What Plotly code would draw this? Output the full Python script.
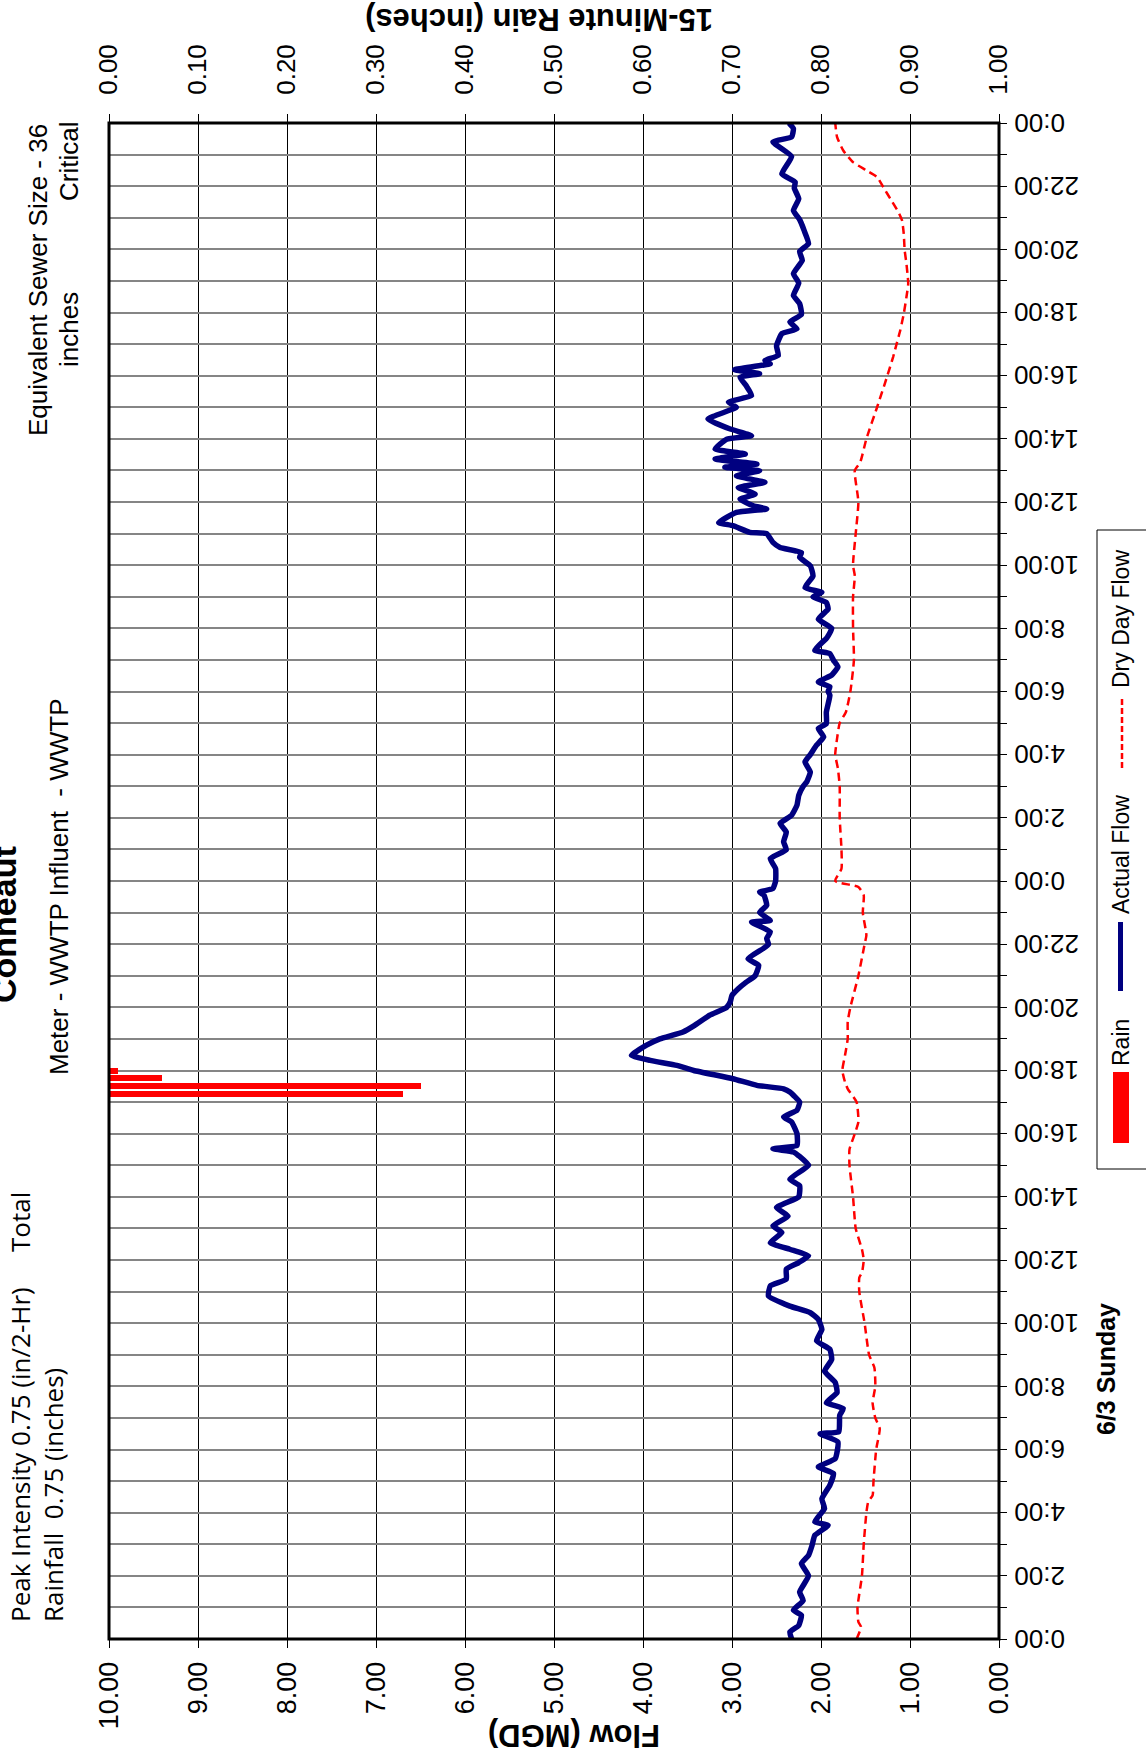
import plotly.graph_objects as go

# ---------------- data ----------------
flow_hours = [0.0, 0.22, 0.43, 0.75, 0.91, 1.22, 1.49, 2.0, 2.39, 2.65, 2.97, 3.28, 3.6, 3.71, 4.13, 4.44,
              4.87, 5.24, 5.45, 5.71, 6.24, 6.5, 6.56, 7.08, 7.3, 7.48, 7.8, 8.12, 8.48, 8.85, 9.17, 9.44,
              9.8, 10.12, 10.33, 10.54, 10.86, 11.18, 11.39, 11.71, 11.92, 12.13, 12.34, 12.55, 12.87,
              13.08, 13.39, 13.66, 14.0, 14.35, 14.56, 15.0, 15.3, 15.42, 15.52, 15.63, 16.0, 16.37, 16.53,
              16.74, 17.0, 17.32, 17.42, 17.53, 17.74, 18.0, 18.16, 18.32, 18.48, 18.8, 19.0, 19.22, 19.43,
              19.75, 20.0, 20.17, 20.38, 20.59, 20.8, 21.0, 21.33, 21.54, 21.86, 22.0, 22.18, 22.39, 22.7,
              22.75, 23.0, 23.23, 23.55, 23.65, 23.76, 24.0, 24.39, 24.71, 24.99, 25.24, 25.55, 25.82,
              26.08, 26.4, 26.71, 27.0, 27.14, 27.45, 27.77, 28.0, 28.3, 28.56, 28.83, 28.98, 29.35, 29.88,
              30.0, 30.15, 30.3, 30.52, 30.78, 30.99, 31.2, 31.31, 31.68, 31.76, 32.0, 32.29, 32.61, 32.82,
              33.0, 33.14, 33.29, 33.66, 33.98, 34.25, 34.4, 34.56, 34.72, 35.0, 35.04, 35.25, 35.35, 35.67,
              35.78, 35.88, 36.09, 36.25, 36.46, 36.62, 36.83, 36.99, 37.1, 37.2, 37.36, 37.52, 37.68,
              37.99, 38.1, 38.31, 38.63, 39.0, 39.16, 39.37, 39.68, 39.95, 40.06, 40.19, 40.38, 40.48,
              40.64, 40.94, 41.33, 41.48, 41.7, 41.94, 42.28, 42.54, 42.93, 43.23, 43.65, 43.93, 44.18,
              44.6, 44.94, 45.23, 45.6, 45.94, 46.13, 46.39, 46.94, 47.4, 47.56, 47.82, 48.0]
flow_mgd = [2.33, 2.35, 2.25, 2.22, 2.31, 2.20, 2.24, 2.14, 2.22, 2.14, 2.10, 2.07, 1.92, 2.07, 1.96, 1.99,
            1.90, 1.86, 2.03, 1.84, 1.81, 2.01, 1.80, 1.79, 1.75, 1.94, 1.82, 1.84, 1.96, 1.88, 1.90, 2.05,
            1.99, 2.03, 2.12, 2.35, 2.59, 2.57, 2.39, 2.39, 2.25, 2.14, 2.35, 2.57, 2.44,
            2.54, 2.37, 2.50, 2.25, 2.24, 2.35, 2.14, 2.25, 2.31, 2.54, 2.27, 2.27, 2.33, 2.42,
            2.27, 2.24, 2.35, 2.42, 2.72, 2.99, 3.43, 3.62, 3.92, 4.13, 3.96, 3.81, 3.55, 3.42,
            3.25, 3.06, 3.02, 3.00, 2.93, 2.84, 2.74, 2.70, 2.82, 2.65, 2.59, 2.61, 2.57, 2.78,
            2.57, 2.69, 2.61, 2.64, 2.69, 2.54, 2.51, 2.51, 2.57, 2.39, 2.42, 2.39, 2.46,
            2.33, 2.27, 2.25, 2.20, 2.16, 2.12, 2.18, 2.12, 2.05, 1.97, 2.03, 1.94, 1.94, 1.90,
            1.92, 1.90, 2.03, 1.88, 1.81, 1.86, 1.90, 2.07, 1.94, 1.92, 1.88, 2.03, 1.92, 1.94,
            2.09, 1.99, 2.18, 2.09, 2.12, 2.24, 2.22, 2.46, 2.54, 2.61, 2.80, 2.99, 3.15, 2.95,
            2.61, 2.76, 2.91, 2.74, 2.93, 2.63, 2.95, 2.69, 3.08, 2.72, 3.19, 2.85, 3.19,
            3.06, 2.78, 3.02, 3.27, 2.95, 3.04, 2.78, 2.84, 2.91, 2.69, 2.97, 2.57, 2.63,
            2.48, 2.50, 2.44, 2.27, 2.35, 2.22, 2.24, 2.31, 2.25, 2.31, 2.21, 2.24, 2.14,
            2.19, 2.24, 2.31, 2.25, 2.30, 2.29, 2.44, 2.33, 2.54, 2.33, 2.31, 2.36]

dry_hours = [0.0, 0.38, 0.54, 1.0, 2.0, 3.0, 4.0, 4.34, 4.55, 5.0, 6.0, 6.66, 7.0, 7.48, 8.0, 8.59, 9.0,
             10.0, 11.0, 11.44, 11.6, 12.0, 12.34, 13.0, 14.0, 15.0, 15.5, 16.0, 16.37, 17.0, 17.42,
             17.63, 18.0, 18.48, 19.0, 19.54, 20.0, 21.0, 22.0, 22.28, 23.0, 23.55, 23.81, 24.0, 24.39,
             25.0, 26.0, 27.0, 27.56, 28.0, 28.5, 29.0, 29.35, 30.0, 31.0, 32.0, 33.0, 33.66, 34.0, 35.0,
             36.0, 37.0, 37.25, 38.0, 39.0, 39.95, 40.59, 41.01, 41.43, 41.96, 42.49, 42.91, 43.55,
             43.97, 44.49, 44.92, 45.18, 45.55, 45.97, 46.29, 46.5, 46.76, 47.13, 47.56, 48.0]
dry_mgd = [1.60, 1.55, 1.58, 1.59, 1.54, 1.52, 1.49, 1.47, 1.42, 1.41, 1.38, 1.34, 1.39, 1.42, 1.39, 1.40, 1.46,
           1.51, 1.57, 1.57, 1.54, 1.52, 1.54, 1.61, 1.64, 1.68, 1.68, 1.62, 1.58, 1.60, 1.70,
           1.73, 1.76, 1.73, 1.70, 1.70, 1.67, 1.58, 1.51, 1.49, 1.53, 1.52, 1.58, 1.84, 1.77,
           1.77, 1.79, 1.79, 1.81, 1.84, 1.82, 1.79, 1.72, 1.67, 1.63, 1.64, 1.64, 1.62, 1.64, 1.61,
           1.58, 1.62, 1.56, 1.49, 1.37, 1.26, 1.19, 1.15, 1.11, 1.07, 1.04, 1.02, 1.04,
           1.06, 1.07, 1.09, 1.13, 1.21, 1.30, 1.37, 1.49, 1.64, 1.75, 1.82, 1.84]

rain_hours = [17.25, 17.5, 17.75, 18.0]
rain_in = [0.33, 0.35, 0.06, 0.01]

hour_ticks = list(range(0, 49))
hour_labels = ["0:00", "", "2:00", "", "4:00", "", "6:00", "", "8:00", "", "10:00", "", "12:00", "",
               "14:00", "", "16:00", "", "18:00", "", "20:00", "", "22:00", "",
               "0:00", "", "2:00", "", "4:00", "", "6:00", "", "8:00", "", "10:00", "", "12:00", "",
               "14:00", "", "16:00", "", "18:00", "", "20:00", "", "22:00", "", "0:00"]
flow_ticks = [0, 1, 2, 3, 4, 5, 6, 7, 8, 9, 10]
rain_ticks = [0.0, 0.1, 0.2, 0.3, 0.4, 0.5, 0.6, 0.7, 0.8, 0.9, 1.0]

# ---------------- layout geometry ----------------
W, H = 1146, 1760
L, R, T, B = 109, 999, 123, 1639
PW, PH = R - L, B - T
FONT = "Liberation Sans, Arial, sans-serif"


def px(x):
    return (x - L) / PW


def py(y):
    return (B - y) / PH


fig = go.Figure()

fig.add_trace(go.Bar(x=rain_in, y=rain_hours, orientation="h", xaxis="x2", yaxis="y",
                     marker=dict(color="#FF0000", line=dict(width=0)), width=0.19,
                     name="Rain", showlegend=False))
fig.add_trace(go.Scatter(x=dry_mgd, y=dry_hours, mode="lines", name="Dry Day Flow",
                         line=dict(color="#FF0000", width=2.5, dash="8px,5px", shape="spline",
                                   smoothing=0.5), showlegend=False))
fig.add_trace(go.Scatter(x=flow_mgd, y=flow_hours, mode="lines", name="Actual Flow",
                         line=dict(color="#000080", width=5.5, shape="spline", smoothing=0.4),
                         showlegend=False))

fig.update_layout(
    width=W, height=H,
    margin=dict(l=L, r=W - R, t=T, b=H - B, pad=0),
    paper_bgcolor="white", plot_bgcolor="white",
    font=dict(family=FONT, color="black"),
    bargap=0,
    xaxis=dict(range=[10, 0], tickvals=flow_ticks, tickformat=".2f", tickangle=-90,
               showgrid=True, gridcolor="black", gridwidth=1, zeroline=False,
               ticks="outside", ticklen=8, tickcolor="black", tickwidth=1,
               tickfont=dict(size=27, family=FONT), showline=False, ticklabelstandoff=3),
    xaxis2=dict(range=[0, 1], tickvals=rain_ticks, tickformat=".2f", tickangle=-90,
                overlaying="x", side="top", showgrid=False, zeroline=False,
                ticks="outside", ticklen=8, tickcolor="black", tickwidth=1,
                tickfont=dict(size=26, family=FONT), showline=False, ticklabelstandoff=14),
    yaxis=dict(range=[0, 48], side="right", tickvals=hour_ticks, showticklabels=False,
               showgrid=True, gridcolor="#858585", gridwidth=2, zeroline=False,
               ticks="outside", ticklen=7, tickcolor="black", tickwidth=1),
)

shapes = [
    dict(type="rect", xref="paper", yref="paper", x0=0, x1=1, y0=0, y1=1,
         line=dict(color="black", width=3), layer="above"),
    # legend box
    dict(type="rect", xref="paper", yref="paper", x0=px(1097), x1=px(1160), y0=py(1169), y1=py(530),
         line=dict(color="black", width=1), fillcolor="white"),
    dict(type="rect", xref="paper", yref="paper", x0=px(1113), x1=px(1129), y0=py(1143), y1=py(1072),
         line=dict(width=0), fillcolor="#FF0000"),
    dict(type="line", xref="paper", yref="paper", x0=px(1120.5), x1=px(1120.5), y0=py(991), y1=py(922),
         line=dict(color="#000080", width=5)),
    dict(type="line", xref="paper", yref="paper", x0=px(1122), x1=px(1122), y0=py(768), y1=py(696),
         line=dict(color="#FF0000", width=2.5, dash="6px,3px")),
]

annotations = []

# time-axis labels (upside down, left-aligned next to the right axis)
for hv, lab in zip(hour_ticks, hour_labels):
    if lab:
        annotations.append(dict(text=lab, x=px(1013), y=hv, xref="paper", yref="y",
                                xanchor="left", yanchor="middle", showarrow=False, textangle=180,
                                borderpad=0, font=dict(size=26, family=FONT, color="black")))


def ann(text, x, y, size, angle=-90, bold=False, family=FONT):
    t = "<b>%s</b>" % text if bold else text
    annotations.append(dict(text=t, x=px(x), y=py(y), xref="paper", yref="paper",
                            xanchor="center", yanchor="middle", showarrow=False,
                            textangle=angle, font=dict(size=size, family=family, color="black")))


ann("Conneaut", 4, 925, 34, bold=True)
ann("Meter - WWTP Influent  - WWTP", 59, 887, 26)
ann("Equivalent Sewer Size - 36", 38, 280, 26)
ann("inches", 69, 330, 26)
ann("Critical", 69, 162, 26)
ann("Peak Intensity 0.75 (in/2-Hr)", 20, 1455, 26, family="Open Sans, sans-serif")
ann("Total", 20, 1222, 26, family="Open Sans, sans-serif")
ann("Rainfall  0.75 (inches)", 53, 1495, 26, family="Open Sans, sans-serif")
ann("Flow (MGD)", 574, 1736, 31, angle=180, bold=True)
ann("15-Minute Rain (inches)", 539, 20, 31, angle=180, bold=True)
ann("6/3 Sunday", 1106, 1369, 25, bold=True)
ann("Rain", 1121, 1043, 23)
ann("Actual Flow", 1121, 855, 23)
ann("Dry Day Flow", 1121, 619, 23)

fig.update_layout(shapes=shapes, annotations=annotations)

fig.write_html("out.html")
